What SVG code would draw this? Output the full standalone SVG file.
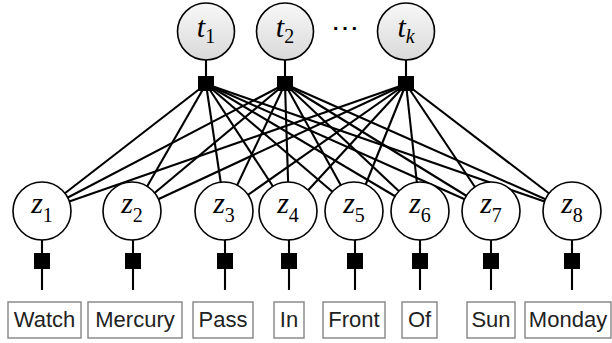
<svg xmlns="http://www.w3.org/2000/svg" width="612" height="343" viewBox="0 0 612 343">
<style>
.edge{stroke:#000;stroke-width:2.1;fill:none}
.fac{fill:#000}
.tn{fill:url(#g);stroke:#000;stroke-width:1.6}
.zn{fill:#fff;stroke:#000;stroke-width:1.6}
.m{font-family:"Liberation Serif","DejaVu Serif",serif;font-style:italic;font-size:30px;fill:#000}
.s{font-style:normal;font-size:20px}
.sk{font-style:italic;font-size:20px}
.box{fill:#fff;stroke:#8c8c8c;stroke-width:1.5}
.w{font-family:"Liberation Sans",Arial,sans-serif;font-size:22px;fill:#222;text-anchor:middle}
</style>
<defs>
<linearGradient id="g" x1="0" y1="0" x2="0" y2="1">
<stop offset="0" stop-color="#f8f8f8"/>
<stop offset="1" stop-color="#d9d9d9"/>
</linearGradient>
</defs>
<rect width="612" height="343" fill="#fff"/>
<g id="connectors">
<line class="edge" x1="206" y1="60" x2="206" y2="84"/>
<line class="edge" x1="285" y1="60" x2="285" y2="84"/>
<line class="edge" x1="406" y1="60" x2="406" y2="84"/>
<line class="edge" x1="206" y1="84" x2="42" y2="211"/>
<line class="edge" x1="206" y1="84" x2="133" y2="211"/>
<line class="edge" x1="206" y1="84" x2="225" y2="211"/>
<line class="edge" x1="206" y1="84" x2="289" y2="211"/>
<line class="edge" x1="206" y1="84" x2="355" y2="211"/>
<line class="edge" x1="206" y1="84" x2="420" y2="211"/>
<line class="edge" x1="206" y1="84" x2="491" y2="211"/>
<line class="edge" x1="206" y1="84" x2="572" y2="211"/>
<line class="edge" x1="285" y1="84" x2="42" y2="211"/>
<line class="edge" x1="285" y1="84" x2="133" y2="211"/>
<line class="edge" x1="285" y1="84" x2="225" y2="211"/>
<line class="edge" x1="285" y1="84" x2="289" y2="211"/>
<line class="edge" x1="285" y1="84" x2="355" y2="211"/>
<line class="edge" x1="285" y1="84" x2="420" y2="211"/>
<line class="edge" x1="285" y1="84" x2="491" y2="211"/>
<line class="edge" x1="285" y1="84" x2="572" y2="211"/>
<line class="edge" x1="406" y1="84" x2="42" y2="211"/>
<line class="edge" x1="406" y1="84" x2="133" y2="211"/>
<line class="edge" x1="406" y1="84" x2="225" y2="211"/>
<line class="edge" x1="406" y1="84" x2="289" y2="211"/>
<line class="edge" x1="406" y1="84" x2="355" y2="211"/>
<line class="edge" x1="406" y1="84" x2="420" y2="211"/>
<line class="edge" x1="406" y1="84" x2="491" y2="211"/>
<line class="edge" x1="406" y1="84" x2="572" y2="211"/>
<line class="edge" x1="42" y1="240" x2="42" y2="290"/>
<line class="edge" x1="133" y1="240" x2="133" y2="290"/>
<line class="edge" x1="225" y1="240" x2="225" y2="290"/>
<line class="edge" x1="289" y1="240" x2="289" y2="290"/>
<line class="edge" x1="355" y1="240" x2="355" y2="290"/>
<line class="edge" x1="420" y1="240" x2="420" y2="290"/>
<line class="edge" x1="491" y1="240" x2="491" y2="290"/>
<line class="edge" x1="572" y1="240" x2="572" y2="290"/>
</g>
<g id="factors-top">
<rect class="fac" x="198" y="76" width="16" height="15"/>
<rect class="fac" x="277" y="76" width="16" height="15"/>
<rect class="fac" x="398" y="76" width="16" height="15"/>
</g>
<g id="factors-bottom">
<rect class="fac" x="34" y="253" width="16" height="16"/>
<rect class="fac" x="125" y="253" width="16" height="16"/>
<rect class="fac" x="217" y="253" width="16" height="16"/>
<rect class="fac" x="281" y="253" width="16" height="16"/>
<rect class="fac" x="347" y="253" width="16" height="16"/>
<rect class="fac" x="412" y="253" width="16" height="16"/>
<rect class="fac" x="483" y="253" width="16" height="16"/>
<rect class="fac" x="564" y="253" width="16" height="16"/>
</g>
<g id="t1"><circle class="tn" cx="206" cy="31.5" r="28.5"/><text class="m" x="206" y="37" text-anchor="middle">t<tspan class="s" dy="6">1</tspan></text></g>
<g id="t2"><circle class="tn" cx="285" cy="31.5" r="28.5"/><text class="m" x="285" y="37" text-anchor="middle">t<tspan class="s" dy="6">2</tspan></text></g>
<text id="dots" x="345" y="37" font-family="DejaVu Serif,serif" font-size="28" text-anchor="middle" fill="#000">⋯</text>
<g id="tk"><circle class="tn" cx="406" cy="31.5" r="28.5"/><text class="m" x="406" y="37" text-anchor="middle">t<tspan class="sk" dy="6">k</tspan></text></g>
<g id="z1"><circle class="zn" cx="42" cy="211" r="29"/><text class="m" x="42" y="213" text-anchor="middle">z<tspan class="s" dy="9">1</tspan></text></g>
<g id="z2"><circle class="zn" cx="132" cy="211" r="29"/><text class="m" x="132" y="213" text-anchor="middle">z<tspan class="s" dy="9">2</tspan></text></g>
<g id="z3"><circle class="zn" cx="224" cy="211" r="29"/><text class="m" x="224" y="213" text-anchor="middle">z<tspan class="s" dy="9">3</tspan></text></g>
<g id="z4"><circle class="zn" cx="288" cy="211" r="29"/><text class="m" x="288" y="213" text-anchor="middle">z<tspan class="s" dy="9">4</tspan></text></g>
<g id="z5"><circle class="zn" cx="354" cy="211" r="29"/><text class="m" x="354" y="213" text-anchor="middle">z<tspan class="s" dy="9">5</tspan></text></g>
<g id="z6"><circle class="zn" cx="420" cy="211" r="29"/><text class="m" x="420" y="213" text-anchor="middle">z<tspan class="s" dy="9">6</tspan></text></g>
<g id="z7"><circle class="zn" cx="491" cy="211" r="29"/><text class="m" x="491" y="213" text-anchor="middle">z<tspan class="s" dy="9">7</tspan></text></g>
<g id="z8"><circle class="zn" cx="572" cy="211" r="29"/><text class="m" x="572" y="213" text-anchor="middle">z<tspan class="s" dy="9">8</tspan></text></g>
<g id="w1"><rect class="box" x="8" y="302" width="73" height="36"/><text class="w" x="44.5" y="327">Watch</text></g>
<g id="w2"><rect class="box" x="88" y="302" width="94" height="36"/><text class="w" x="135" y="327">Mercury</text></g>
<g id="w3"><rect class="box" x="193" y="302" width="60" height="36"/><text class="w" x="223" y="327">Pass</text></g>
<g id="w4"><rect class="box" x="274" y="302" width="30" height="36"/><text class="w" x="289" y="327">In</text></g>
<g id="w5"><rect class="box" x="323" y="302" width="62" height="36"/><text class="w" x="354" y="327">Front</text></g>
<g id="w6"><rect class="box" x="402" y="302" width="35" height="36"/><text class="w" x="419.5" y="327">Of</text></g>
<g id="w7"><rect class="box" x="467" y="302" width="48" height="36"/><text class="w" x="491" y="327">Sun</text></g>
<g id="w8"><rect class="box" x="525" y="302" width="86" height="36"/><text class="w" x="568" y="327">Monday</text></g>
</svg>
